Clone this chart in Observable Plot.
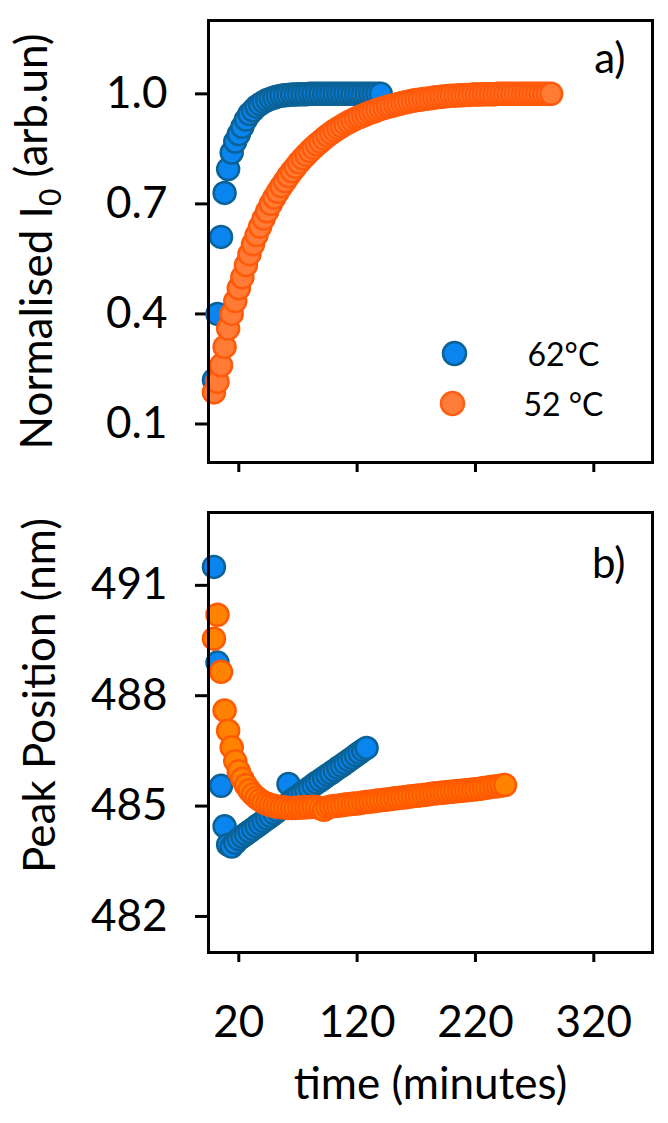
<!DOCTYPE html>
<html><head><meta charset="utf-8">
<script src="https://cdn.jsdelivr.net/npm/d3@7"></script>
<script src="https://cdn.jsdelivr.net/npm/@observablehq/plot@0.6"></script>
<style>
html,body{margin:0;padding:0;background:#fff;}
#chart svg{display:block;}
</style></head><body><div id="chart"></div>
<script>
// ---- data ----
const seriesNames = ["62°C", "52 °C"];
const xTicks = [20, 120, 220, 320];
const yTicksTop = [0.1, 0.4, 0.7, 1.0];
const yTicksBottom = [482, 485, 488, 491];

// panel a) 62°C normalised I0
const t62a = [-1,2,5,8,11,14,17,20,23,26,29,32,35,38,41,44,47,50,53,56,59,62,65,68,71,74,77,80,83,86,89,92,95,98,101,104,107,110,113,116,119,122,125,128,131,134,137,140];
const i62 = [0.22,0.40,0.61,0.73,0.795,0.84,0.87,0.89,0.91,0.93,0.945,0.955,0.965,0.972,0.978,0.983,0.987,0.99,0.993,0.995,0.996,0.997,0.998,0.998,0.999,0.999,0.999,1.0,1.0,1.0,1.0,1.0,1.0,1.0,1.0,1.0,1.0,1.0,1.0,1.0,1.0,1.0,1.0,1.0,1.0,1.0,1.0,1.0];

// panel a) 52 °C normalised I0
const t52a = [-1,2,5,8,11,14,17,20,23,26,29,32,35,38,41,44,47,50,53,56,59,62,65,68,71,74,77,80,83,86,89,92,95,98,101,104,107,110,113,116,119,122,125,128,131,134,137,140,143,146,149,152,155,158,161,164,167,170,173,176,179,182,185,188,191,194,197,200,203,206,209,212,215,218,221,224,227,230,233,236,239,242,245,248,251,254,257,260,263,266,269,272,275,278,281,284];
const i52 = [0.186,0.215,0.26,0.31,0.36,0.40,0.435,0.47,0.50,0.533,0.563,0.59,0.615,0.638,0.66,0.68,0.70,0.717,0.733,0.748,0.762,0.776,0.789,0.801,0.813,0.824,0.834,0.844,0.853,0.862,0.870,0.878,0.886,0.893,0.900,0.906,0.912,0.918,0.923,0.928,0.933,0.937,0.941,0.945,0.949,0.952,0.956,0.959,0.962,0.965,0.967,0.970,0.972,0.975,0.977,0.979,0.981,0.983,0.984,0.986,0.987,0.988,0.990,0.991,0.992,0.993,0.994,0.995,0.995,0.996,0.996,0.997,0.997,0.998,0.998,0.998,0.999,0.999,0.999,0.999,1.0,1.0,1.0,1.0,1.0,1.0,1.0,1.0,1.0,1.0,1.0,1.0,1.0,1.0,1.0,1.0];

// panel b) 62°C peak position
const t62b = [-1,2,5,8,11,14,17,20,23,26,29,32,35,38,41,44,47,50,53,56,59,62,65,68,71,74,77,80,83,86,89,92,95,98,101,104,107,110,113,116,119,122,125,128];
const p62 = [491.5,488.9,485.55,484.45,483.95,483.9,484.0,484.1,484.17,484.24,484.31,484.38,484.45,484.52,484.59,484.66,484.73,484.8,484.87,484.94,485.01,485.6,485.15,485.22,485.29,485.36,485.43,485.5,485.57,485.64,485.7,485.77,485.84,485.9,485.97,486.04,486.1,486.17,486.24,486.31,486.38,486.45,486.52,486.58];

// panel b) 52 °C peak position
const t52b = [-1,2,5,8,11,14,17,20,23,26,29,32,35,38,41,44,47,50,53,56,59,62,65,68,71,74,77,80,83,86,89,92,95,98,101,104,107,110,113,116,119,122,125,128,131,134,137,140,143,146,149,152,155,158,161,164,167,170,173,176,179,182,185,188,191,194,197,200,203,206,209,212,215,218,221,224,227,230,233,236,239,242,245];
const p52 = [489.55,490.2,488.65,487.6,487.05,486.6,486.22,485.95,485.74,485.57,485.43,485.32,485.23,485.16,485.1,485.06,485.03,485.0,484.98,484.97,484.96,484.95,484.95,484.95,484.96,484.96,484.97,484.97,484.98,484.97,484.94,484.9,484.96,484.99,485.0,485.01,485.02,485.04,485.05,485.06,485.07,485.08,485.1,485.11,485.12,485.13,485.15,485.16,485.17,485.18,485.19,485.21,485.22,485.23,485.24,485.26,485.27,485.28,485.29,485.3,485.31,485.33,485.34,485.35,485.36,485.37,485.38,485.39,485.4,485.41,485.42,485.43,485.44,485.45,485.46,485.47,485.49,485.5,485.52,485.53,485.54,485.56,485.57];

// ---- styling ----
const FONT = "Lato, 'Open Sans', sans-serif";
const blueFill = "#0a84ee", blueStroke = "#0b6296";
const orangeFillA = "#ff7b36", orangeStrokeA = "#ff5a0a";
const orangeFillB = "#ff8200", orangeStrokeB = "#ff5a00";
const R = 11, SW = 2.5;
const xDomain = [-5.6, 369.6];

const dA62 = t62a.map((t, i) => ({t, v: i62[i]}));
const dA52 = t52a.map((t, i) => ({t, v: i52[i]}));
const dB62 = t62b.map((t, i) => ({t, v: p62[i]}));
const dB52 = t52b.map((t, i) => ({t, v: p52[i]}));

const chartA = Plot.plot({
  width: 668, height: 490,
  marginLeft: 208, marginRight: 16, marginTop: 20, marginBottom: 28,
  style: {fontFamily: FONT, color: "black", background: "white", overflow: "visible"},
  x: {domain: xDomain},
  y: {domain: [-0.005, 1.2]},
  marks: [
    Plot.axisY({ticks: yTicksTop, tickFormat: d3.format(".1f"), tickSize: 13, tickPadding: 28, fontSize: 44, strokeWidth: 3, label: null}),
    Plot.axisX({ticks: xTicks, tickSize: 10, tickFormat: () => "", strokeWidth: 3, label: null}),
    Plot.dot(dA62, {x: "t", y: "v", r: R, fill: blueFill, stroke: blueStroke, strokeWidth: SW}),
    Plot.dot(dA52, {x: "t", y: "v", r: R, fill: orangeFillA, stroke: orangeStrokeA, strokeWidth: SW}),
    Plot.frame({stroke: "black", strokeWidth: 3}),
    Plot.text(["a)"], {frameAnchor: "top-right", dx: -27, dy: 52, textAnchor: "end", lineAnchor: "bottom", fontSize: 42}),
    Plot.dot([seriesNames[0]], {frameAnchor: "top-left", dx: 246, dy: 333, r: 11.5, fill: blueFill, stroke: blueStroke, strokeWidth: 2.5}),
    Plot.dot([seriesNames[1]], {frameAnchor: "top-left", dx: 244, dy: 383, r: 11.5, fill: "#ff7d3b", stroke: "#ff5f14", strokeWidth: 2.5}),
    Plot.text([seriesNames[0]], {frameAnchor: "top-left", dx: 319, dy: 335, textAnchor: "start", lineAnchor: "middle", fontSize: 32}),
    Plot.text([seriesNames[1]], {frameAnchor: "top-left", dx: 315, dy: 385, textAnchor: "start", lineAnchor: "middle", fontSize: 32}),
    Plot.text(["Normalised I0 (arb.un)"], {frameAnchor: "left", dx: -171, rotate: -90, textAnchor: "middle", lineAnchor: "middle", fontSize: 44})
  ]
});

const chartB = Plot.plot({
  width: 668, height: 633,
  marginLeft: 208, marginRight: 16, marginTop: 22, marginBottom: 171,
  style: {fontFamily: FONT, color: "black", background: "white", overflow: "visible"},
  x: {domain: xDomain},
  y: {domain: [481.02, 492.98]},
  marks: [
    Plot.axisY({ticks: yTicksBottom, tickFormat: d3.format("d"), tickSize: 13, tickPadding: 28, fontSize: 44, strokeWidth: 3, label: null}),
    Plot.axisX({ticks: xTicks, tickFormat: d3.format("d"), tickSize: 10, tickPadding: 43, fontSize: 44, strokeWidth: 3, label: null}),
    Plot.dot(dB62, {x: "t", y: "v", r: R, fill: blueFill, stroke: blueStroke, strokeWidth: SW}),
    Plot.dot(dB52, {x: "t", y: "v", r: R, fill: orangeFillB, stroke: orangeStrokeB, strokeWidth: SW}),
    Plot.frame({stroke: "black", strokeWidth: 3}),
    Plot.text(["b)"], {frameAnchor: "top-right", dx: -27, dy: 65, textAnchor: "end", lineAnchor: "bottom", fontSize: 42}),
    Plot.text(["Peak Position (nm)"], {frameAnchor: "left", dx: -168, dy: -37, rotate: -90, textAnchor: "middle", lineAnchor: "middle", fontSize: 44}),
    Plot.text(["time (minutes)"], {frameAnchor: "bottom", dy: 146, textAnchor: "middle", lineAnchor: "bottom", fontSize: 44})
  ]
});

// subscript 0 in the y title of panel a)
const ns = "http://www.w3.org/2000/svg";
const titleEl = [...chartA.querySelectorAll("text")].find(e => e.textContent === "Normalised I0 (arb.un)");
if (titleEl) {
  titleEl.textContent = "";
  const parts = [["Normalised I", null, null], ["0", "0.3em", "0.68em"], [" (arb.un)", "-0.3em", null]];
  for (const [txt, dy, fs] of parts) {
    const ts = document.createElementNS(ns, "tspan");
    ts.textContent = txt;
    if (dy) ts.setAttribute("dy", dy);
    if (fs) ts.setAttribute("font-size", fs);
    titleEl.appendChild(ts);
  }
}

document.getElementById("chart").append(chartA, chartB);
</script>
</body></html>
